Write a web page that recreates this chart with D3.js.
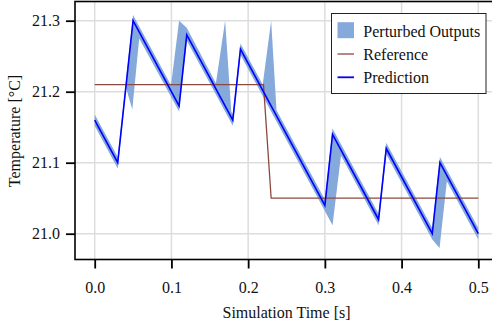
<!DOCTYPE html>
<html>
<head>
<meta charset="utf-8">
<script src="https://cdn.jsdelivr.net/npm/d3@7"></script>
<style>
  body { margin: 0; background: #fff; }
  svg { display: block; }
  svg text { font-family: "Liberation Serif", "Tinos", "Nimbus Roman", "Times New Roman", "DejaVu Serif", serif !important; }
</style>
</head>
<body>
<div id="chart"></div>
<script>
// prediction vertices
const predT = [0, 0.03, 0.05, 0.11, 0.12, 0.18, 0.19, 0.30, 0.31, 0.37, 0.38, 0.44, 0.45, 0.50];
const predV = [21.16, 21.10, 21.30, 21.18, 21.28, 21.16, 21.26, 21.04, 21.14, 21.02, 21.12, 21.00, 21.10, 21.00];

// reference (setpoint)
const refT = [0, 0.22, 0.23, 0.50];
const refV = [21.21, 21.21, 21.05, 21.05];

// envelope of perturbed outputs
const upperT = [0, 0.03, 0.05, 0.0995, 0.11, 0.12, 0.158, 0.17, 0.178, 0.18, 0.19, 0.219, 0.23, 0.237, 0.30, 0.31, 0.37, 0.38, 0.44, 0.45, 0.50];
const upperV = [21.168, 21.108, 21.308, 21.209, 21.30, 21.29, 21.212, 21.30, 21.172, 21.168, 21.268, 21.21, 21.30, 21.174, 21.048, 21.148, 21.028, 21.128, 21.008, 21.108, 21.008];
const lowerT = [0, 0.03, 0.041, 0.049, 0.058, 0.11, 0.12, 0.18, 0.19, 0.30, 0.31, 0.321, 0.37, 0.38, 0.44, 0.4495, 0.459, 0.50];
const lowerV = [21.152, 21.092, 21.205, 21.175, 21.275, 21.172, 21.272, 21.152, 21.252, 21.032, 21.012, 21.11, 21.012, 21.112, 20.992, 20.98, 21.074, 20.992];

const xTicks = [0, 0.1, 0.2, 0.3, 0.4, 0.5];
const yTicks = [21.0, 21.1, 21.2, 21.3];
const legendLabels = ['Perturbed Outputs', 'Reference', 'Prediction'];

const W = 492, H = 329;
const plot = { left: 75, right: 498, top: 1.5, bottom: 259.5 };
const bandColor = '#84a9da';
const refColor = '#8c4a3f';
const predColor = '#0000ff';
const serif = '"Liberation Serif", "Tinos", "Nimbus Roman", "Times New Roman", "DejaVu Serif", serif';

const x = d3.scaleLinear().domain([0, 0.5]).range([94.7, 478.3]);
const y = d3.scaleLinear().domain([21.0, 21.3]).range([233.7, 20.7]);

const svg = d3.select('#chart').append('svg')
  .attr('width', W)
  .attr('height', H)
  .attr('font-family', serif);

// grid
const grid = svg.append('g')
  .attr('stroke', '#dddddd')
  .attr('stroke-width', 1.5);
grid.selectAll('line.gx')
  .data(xTicks)
  .join('line')
  .attr('class', 'gx')
  .attr('x1', d => x(d)).attr('x2', d => x(d))
  .attr('y1', plot.top).attr('y2', plot.bottom);
grid.selectAll('line.gy')
  .data(yTicks)
  .join('line')
  .attr('class', 'gy')
  .attr('x1', plot.left).attr('x2', plot.right)
  .attr('y1', d => y(d)).attr('y2', d => y(d));

const line = d3.line().x(d => x(d[0])).y(d => y(d[1]));

// band polygon: upper forward, lower backward
const upperPts = upperT.map((t, i) => [t, upperV[i]]);
const lowerPts = lowerT.map((t, i) => [t, lowerV[i]]).reverse();
svg.append('path')
  .attr('d', line(upperPts.concat(lowerPts)) + 'Z')
  .attr('fill', bandColor)
  .attr('stroke', 'none');

svg.append('path')
  .attr('d', line(refT.map((t, i) => [t, refV[i]])))
  .attr('fill', 'none')
  .attr('stroke', refColor)
  .attr('stroke-width', 1.3);

svg.append('path')
  .attr('d', line(predT.map((t, i) => [t, predV[i]])))
  .attr('fill', 'none')
  .attr('stroke', predColor)
  .attr('stroke-width', 1.6)
  .attr('stroke-linejoin', 'miter');

// frame
svg.append('rect')
  .attr('x', plot.left).attr('y', plot.top)
  .attr('width', plot.right - plot.left)
  .attr('height', plot.bottom - plot.top)
  .attr('fill', 'none')
  .attr('stroke', '#000')
  .attr('stroke-width', 1.6);

// axes
const xAxis = svg.append('g')
  .attr('transform', `translate(0,${plot.bottom})`)
  .call(d3.axisBottom(x).tickValues(xTicks).tickFormat(d3.format('.1f')).tickSize(9).tickPadding(13));
const yAxis = svg.append('g')
  .attr('transform', `translate(${plot.left},0)`)
  .call(d3.axisLeft(y).tickValues(yTicks).tickFormat(d3.format('.1f')).tickSize(9).tickPadding(6));

[xAxis, yAxis].forEach(a => {
  a.attr('font-family', serif).attr('font-size', 16);
  a.select('.domain').remove();
  a.selectAll('.tick line').attr('stroke', '#000').attr('stroke-width', 1.8);
  a.selectAll('.tick text').attr('fill', '#111');
});

svg.append('text')
  .attr('x', (plot.left + plot.right) / 2)
  .attr('y', 318)
  .attr('text-anchor', 'middle')
  .attr('font-size', 16)
  .attr('fill', '#111')
  .text('Simulation Time [s]');

svg.append('text')
  .attr('transform', 'translate(20,131) rotate(-90)')
  .attr('text-anchor', 'middle')
  .attr('font-size', 16)
  .attr('fill', '#111')
  .text('Temperature [°C]');

// legend
const lg = svg.append('g').attr('transform', 'translate(331.5,13.5)');
lg.append('rect')
  .attr('width', 154.5).attr('height', 80)
  .attr('fill', '#fff')
  .attr('stroke', '#222')
  .attr('stroke-width', 1);

const rowY = [23.2, 46.5, 69.8];
lg.append('rect')
  .attr('x', 6).attr('y', rowY[0] - 14.5)
  .attr('width', 16.5).attr('height', 16)
  .attr('fill', bandColor);
lg.append('line')
  .attr('x1', 6).attr('x2', 22.5)
  .attr('y1', rowY[1] - 6).attr('y2', rowY[1] - 6)
  .attr('stroke', refColor).attr('stroke-width', 1.3);
lg.append('line')
  .attr('x1', 6).attr('x2', 22.5)
  .attr('y1', rowY[2] - 6).attr('y2', rowY[2] - 6)
  .attr('stroke', predColor).attr('stroke-width', 1.8);

lg.selectAll('text.lbl')
  .data(legendLabels)
  .join('text')
  .attr('class', 'lbl')
  .attr('x', 31.8)
  .attr('y', (d, i) => rowY[i])
  .attr('font-size', 16)
  .attr('fill', '#111')
  .text(d => d);
</script>
</body>
</html>
